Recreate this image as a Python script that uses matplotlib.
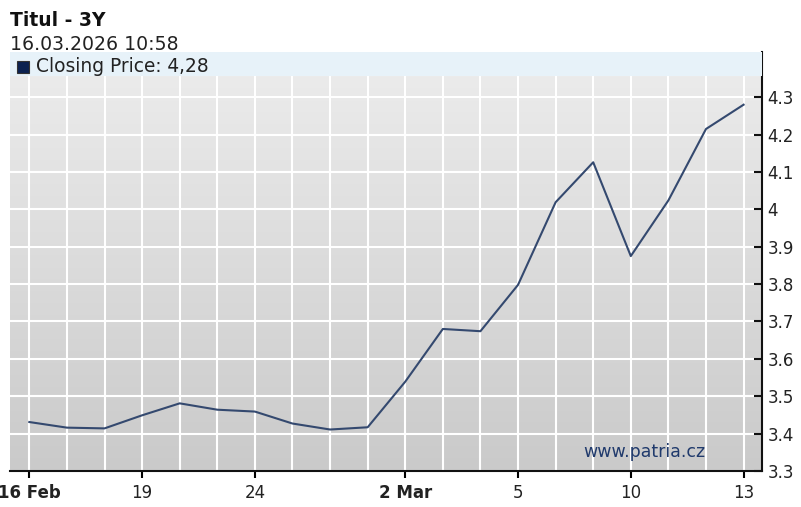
import numpy as np
import matplotlib.pyplot as plt
from matplotlib.colors import LinearSegmentedColormap
from matplotlib.patches import Rectangle

# trading days 16 Feb - 13 Mar
days = ["16 Feb", "17", "18", "19", "20", "23", "24", "25", "26", "27",
        "2 Mar", "3", "4", "5", "6", "9", "10", "11", "12", "13"]
close = [3.431, 3.416, 3.414, 3.449, 3.481, 3.464, 3.459, 3.427, 3.411, 3.417,
         3.539, 3.680, 3.674, 3.798, 4.019, 4.126, 3.875, 4.024, 4.215, 4.28]
shown_ticks = ["16 Feb", "19", "24", "2 Mar", "5", "10", "13"]
bold_ticks = ["16 Feb", "2 Mar"]
y_ticks = [3.3, 3.4, 3.5, 3.6, 3.7, 3.8, 3.9, 4.0, 4.1, 4.2, 4.3]
y_labels = ["3.3", "3.4", "3.5", "3.6", "3.7", "3.8", "3.9", "4", "4.1", "4.2", "4.3"]

W, H = 801, 507
fig = plt.figure(figsize=(W / 100, H / 100), dpi=100)
ax = fig.add_axes([10 / W, 1 - 471 / H, 752 / W, 419 / H])

x = np.arange(len(days))
ax.set_xlim(-0.514, 19.49)
ax.set_ylim(3.304, 4.421)

# grey gradient background
grad = np.linspace(0, 1, 256).reshape(-1, 1)
cmap = LinearSegmentedColormap.from_list("g", ["#ededed", "#cacaca"])
ax.imshow(grad, extent=[0, 1, 0, 1], transform=ax.transAxes, aspect="auto",
          cmap=cmap, zorder=0, origin="upper")

for xi in x:
    ax.axvline(xi, color="white", lw=1.5, zorder=1)
for yv in y_ticks:
    ax.axhline(yv, color="white", lw=1.5, zorder=1)

ax.plot(x, close, color="#34496f", lw=1.5, zorder=3)

# legend band at top
band_h = 24 / 419
ax.add_patch(Rectangle((0, 1 - band_h), 1, band_h, transform=ax.transAxes,
                       facecolor="#e7f2f9", edgecolor="none", zorder=4))
fig.patches.append(Rectangle((17 / W, 1 - 73 / H), 12 / W, 12 / H,
                             transform=fig.transFigure, facecolor="#0b2150",
                             edgecolor="#333333", lw=0.8))
fig.text(36 / W, 1 - 67 / H, "Closing Price: 4,28", fontsize=13.4, color="#222222",
         va="center", ha="left")

fig.text(10 / W, 1 - 20 / H, "Titul - 3Y", fontsize=13.5, fontweight="bold",
         color="#111111", va="center", ha="left")
fig.text(10 / W, 1 - 45 / H, "16.03.2026 10:58", fontsize=13.6, color="#222222",
         va="center", ha="left")

ax.text(16.36, 3.352, "www.patria.cz", fontsize=12.5, color="#203a6c",
        ha="center", va="center", zorder=5)

ax.yaxis.tick_right()
ax.set_yticks(y_ticks)
ax.set_yticklabels(y_labels, fontsize=12, color="#222222")
ax.tick_params(axis="y", direction="in", length=6, width=1.5, pad=4, colors="#111111")
for lab in ax.get_yticklabels():
    lab.set_color("#222222")

tick_pos = [days.index(d) for d in shown_ticks]
ax.set_xticks(tick_pos)
ax.set_xticklabels(shown_ticks, fontsize=12, color="#222222")
for lab in ax.get_xticklabels():
    if lab.get_text() in bold_ticks:
        lab.set_fontweight("bold")
ax.tick_params(axis="x", direction="out", length=5, width=1.5, pad=4)

for s in ["left", "top"]:
    ax.spines[s].set_visible(False)
ax.spines["right"].set_linewidth(1.5)
ax.spines["bottom"].set_linewidth(1.5)
ax.spines["right"].set_color("#111111")
ax.spines["bottom"].set_color("#111111")

fig.savefig("out.png", dpi=100, facecolor="white")
